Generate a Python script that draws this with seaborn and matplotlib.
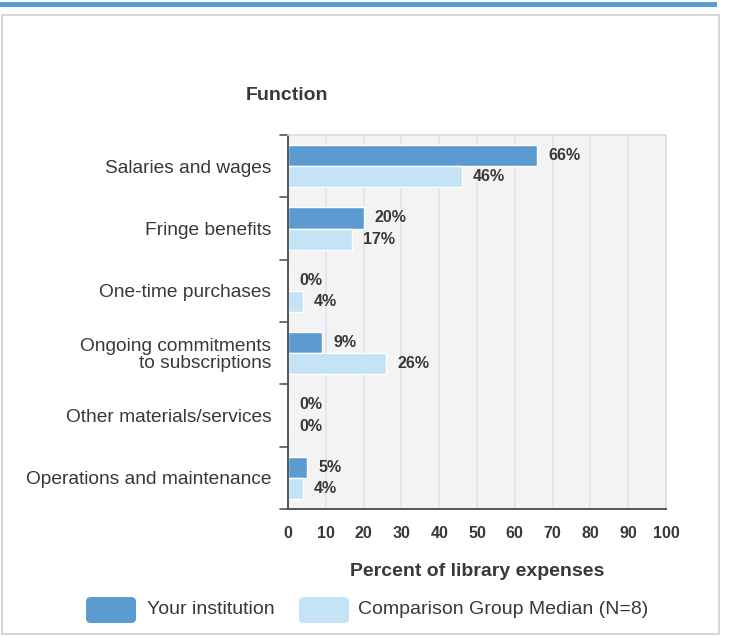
import matplotlib
matplotlib.use("Agg")
import matplotlib.pyplot as plt
from matplotlib.patches import Rectangle, FancyBboxPatch
import pandas as pd
import seaborn as sns

categories = [
    "Salaries and wages",
    "Fringe benefits",
    "One-time purchases",
    "Ongoing commitments\nto subscriptions",
    "Other materials/services",
    "Operations and maintenance",
]
your_institution = [66, 20, 0, 9, 0, 5]
comparison_median = [46, 17, 4, 26, 0, 4]
series_names = ["Your institution", "Comparison Group Median (N=8)"]
x_ticks = [0, 10, 20, 30, 40, 50, 60, 70, 80, 90, 100]

DARK = "#5b9bd0"
LIGHT = "#c5e3f7"
TEXT = "#383838"

df = pd.DataFrame({
    "Function": categories * 2,
    "Percent": your_institution + comparison_median,
    "Series": [series_names[0]] * len(categories) + [series_names[1]] * len(categories),
})

sns.set_theme(style="white")
plt.rcParams["font.family"] = ["Liberation Sans", "DejaVu Sans"]

W, H = 729, 637
fig = plt.figure(figsize=(W / 100, H / 100), dpi=100)

# page decorations: top accent strip and panel frame
fig.patches.append(Rectangle((0, 1 - 7 / H), 717 / W, 5 / H, transform=fig.transFigure,
                             facecolor="#5b9bd0", edgecolor="none"))
fig.patches.append(Rectangle((1.5 / W, 3 / H), 717 / W, 619 / H, transform=fig.transFigure,
                             facecolor="none", edgecolor="#d0d0d0", linewidth=1.2))

ax = fig.add_axes([288 / W, 1 - 509 / H, 378 / W, 374 / H])
sns.barplot(data=df, y="Function", x="Percent", hue="Series", order=categories,
            hue_order=series_names, palette=[DARK, LIGHT], orient="h",
            width=0.68, saturation=1, ax=ax, legend=False)

ax.set_facecolor("#f3f3f3")
ax.set_xlim(0, 100)
ax.set_ylim(len(categories) - 0.5, -0.5)
ax.set_xticks(x_ticks)
ax.set_xticklabels([str(t) for t in x_ticks], fontsize=11.5, color=TEXT, fontweight="bold")
ax.tick_params(axis="x", length=0, pad=12)
ax.xaxis.grid(True, color="#dfe3ee", linewidth=1.2)
ax.set_axisbelow(True)

# category labels between tick marks at band boundaries
ax.set_yticks(range(len(categories)))
ax.set_yticklabels(categories, fontsize=13.8, color=TEXT, linespacing=0.95)
ax.tick_params(axis="y", length=0, pad=12)
for b in [i - 0.5 for i in range(len(categories) + 1)]:
    ax.plot([-0.022, 0], [b, b], transform=ax.get_yaxis_transform(), color="#555555",
            linewidth=1.2, clip_on=False)

for side in ("top", "right"):
    ax.spines[side].set_color("#dcdcdc")
    ax.spines[side].set_linewidth(1.2)
for side in ("left", "bottom"):
    ax.spines[side].set_color("#555555")
    ax.spines[side].set_linewidth(1.4)

# value labels at the end of each bar
for container, vals in zip(ax.containers, [your_institution, comparison_median]):
    labels = [f"{v}%" for v in vals]
    ax.bar_label(container, labels=labels, padding=8, fontsize=11.5, color=TEXT,
                 fontweight="bold")

ax.set_ylabel("")
ax.set_xlabel("Percent of library expenses", fontsize=14, fontweight="bold",
              color=TEXT, labelpad=16)
ax.text(287 / W, 1 - 96 / H, "Function", transform=fig.transFigure, ha="center",
        va="center", fontsize=14, fontweight="bold", color=TEXT)

# legend swatches with rounded corners
legend_items = [(86, DARK, series_names[0], 147), (299, LIGHT, series_names[1], 358)]
for x0, col, label, tx in legend_items:
    fig.patches.append(FancyBboxPatch((x0 / W, 1 - 623 / H), 50 / W, 26 / H,
                                      boxstyle="round,pad=0,rounding_size=0.007",
                                      transform=fig.transFigure, facecolor=col,
                                      edgecolor="none"))
    fig.text(tx / W, 1 - 609 / H, label, ha="left", va="center", fontsize=14,
             color=TEXT)

fig.savefig("out.png", dpi=100, facecolor="white")
